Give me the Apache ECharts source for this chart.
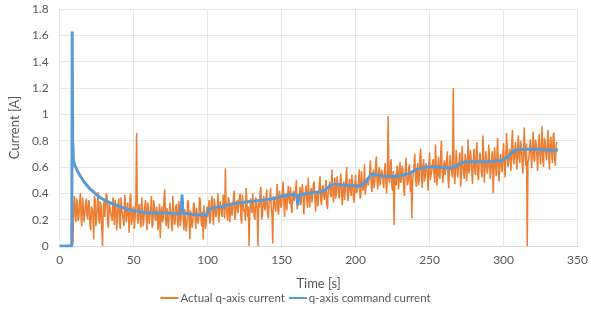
<!DOCTYPE html>
<html lang="en" style="height: 100%">

<head>
  <meta charset="utf-8">
  <style>
    html,
    body {
      margin: 0;
      padding: 0;
      width: 100%;
      height: 100%;
      overflow: hidden;
      background: #fff;
    }
  </style>
</head>

<body>
  <div id="container" style="height: 100%;width: 100%;"></div>

  <script type="text/javascript" src="https://cdn.jsdelivr.net/npm/echarts@6/dist/echarts.min.js"></script>
  <script type="text/javascript">

    var dom = document.getElementById('container');
    var myChart = echarts.init(dom, null, { renderer: 'canvas' });

    let legendItem = ['Actual q-axis current', 'q-axis command current'];
    let color = ['#ED7D31', '#5B9BD5'];
    let textColor = '#595959';
    let fontFamily = 'Lato, "Open Sans", sans-serif';

    // actual current, samples on the whole second from t = 9 s
    let actualStart = 9;
    let actualValues = [
      0.02, 0.38, 0.18, 0.32, 0.22, 0.40, 0.15, 0.30, 0.25, 0.36,
      0.20, 0.33, 0.12, 0.28, 0.05, 0.35, 0.22, 0.41, 0.17, 0.30,
      0.00, 0.34, 0.21, 0.38, 0.14, 0.29, 0.24, 0.37, 0.16, 0.31,
      0.20, 0.36, 0.13, 0.28, 0.23, 0.39, 0.18, 0.33, 0.10, 0.40,
      0.19, 0.30, 0.22, 0.86, 0.17, 0.32, 0.14, 0.27, 0.21, 0.35,
      0.12, 0.29, 0.23, 0.38, 0.16, 0.31, 0.19, 0.26, 0.13, 0.06,
      0.30, 0.20, 0.43, 0.15, 0.28, 0.22, 0.34, 0.11, 0.27, 0.18,
      0.32, 0.14, 0.25, 0.20, 0.36, 0.12, 0.29, 0.17, 0.33, 0.05,
      0.26, 0.19, 0.31, 0.13, 0.28, 0.21, 0.35, 0.15, 0.05, 0.24,
      0.18, 0.22, 0.35, 0.20, 0.38, 0.16, 0.31, 0.24, 0.40, 0.19,
      0.33, 0.22, 0.36, 0.59, 0.25, 0.37, 0.18, 0.32, 0.27, 0.42,
      0.21, 0.35, 0.26, 0.40, 0.17, 0.33, 0.28, 0.44, 0.22, 0.00,
      0.36, 0.25, 0.41, 0.20, 0.34, 0.00, 0.29, 0.45, 0.23, 0.38,
      0.27, 0.43, 0.21, 0.35, 0.30, 0.02, 0.39, 0.26, 0.47, 0.24,
      0.37, 0.31, 0.49, 0.22, 0.40, 0.28, 0.36, 0.45, 0.25, 0.42,
      0.33, 0.50, 0.27, 0.39, 0.31, 0.47, 0.24, 0.41, 0.35, 0.52,
      0.29, 0.44, 0.34, 0.49, 0.26, 0.42, 0.37, 0.53, 0.31, 0.46,
      0.35, 0.50, 0.28, 0.45, 0.39, 0.58, 0.33, 0.52, 0.40, 0.47,
      0.36, 0.55, 0.31, 0.49, 0.42, 0.60, 0.34, 0.51, 0.38, 0.46,
      0.33, 0.54, 0.40, 0.49, 0.36, 0.57, 0.42, 0.62, 0.39, 0.52,
      0.45, 0.65, 0.41, 0.58, 0.49, 0.68, 0.43, 0.60, 0.47, 0.56,
      0.44, 0.63, 0.40, 0.99, 0.48, 0.66, 0.42, 0.16, 0.55, 0.61,
      0.43, 0.64, 0.50, 0.58, 0.38, 0.67, 0.46, 0.60, 0.41, 0.21,
      0.56, 0.70, 0.45, 0.63, 0.50, 0.74, 0.44, 0.66, 0.52, 0.60,
      0.42, 0.71, 0.49, 0.64, 0.55, 0.77, 0.46, 0.68, 0.51, 0.80,
      0.48, 0.65, 0.53, 0.72, 0.44, 0.69, 0.56, 1.20, 0.47, 0.73,
      0.52, 0.66, 0.45, 0.76, 0.55, 0.70, 0.49, 0.81, 0.58, 0.68,
      0.47, 0.74, 0.54, 0.79, 0.50, 0.71, 0.57, 0.84, 0.48, 0.72,
      0.55, 0.77, 0.51, 0.68, 0.40, 0.75, 0.53, 0.82, 0.49, 0.70,
      0.56, 0.78, 0.52, 0.86, 0.60, 0.74, 0.57, 0.88, 0.62, 0.79,
      0.58, 0.84, 0.63, 0.76, 0.55, 0.90, 0.61, 0.00, 0.66, 0.81,
      0.59, 0.87, 0.64, 0.78, 0.57, 0.85, 0.62, 0.91, 0.60, 0.80,
      0.65, 0.88, 0.58, 0.83, 0.63, 0.86, 0.61, 0.79
    ];
    // actual current, samples on the half second from t = 9.5 s
    let actualHalfStart = 9.5;
    let actualHalfValues = [
      0.30, 0.24, 0.36, 0.19, 0.33, 0.21, 0.37, 0.18, 0.31, 0.23,
      0.35, 0.16, 0.30, 0.24, 0.38, 0.15, 0.32, 0.20, 0.34, 0.13,
      0.29, 0.22, 0.40, 0.17, 0.33, 0.25, 0.19, 0.30, 0.35, 0.12,
      0.32, 0.18, 0.37, 0.24, 0.15, 0.31, 0.27, 0.20, 0.36, 0.16,
      0.28, 0.13, 0.34, 0.22, 0.30, 0.19, 0.37, 0.15, 0.29, 0.24,
      0.33, 0.17, 0.27, 0.14, 0.35, 0.21, 0.30, 0.12, 0.32, 0.25,
      0.18, 0.36, 0.23, 0.29, 0.13, 0.33, 0.19, 0.38, 0.16, 0.30,
      0.21, 0.34, 0.15, 0.31, 0.22, 0.28, 0.11, 0.35, 0.20, 0.27,
      0.14, 0.33, 0.22, 0.29, 0.17, 0.37, 0.20, 0.26, 0.31, 0.13,
      0.30, 0.26, 0.17, 0.33, 0.25, 0.36, 0.22, 0.29, 0.18, 0.34,
      0.24, 0.39, 0.21, 0.30, 0.19, 0.35, 0.28, 0.23, 0.38, 0.20,
      0.32, 0.25, 0.37, 0.21, 0.39, 0.26, 0.19, 0.35, 0.30, 0.24,
      0.31, 0.40, 0.22, 0.37, 0.27, 0.33, 0.41, 0.20, 0.34, 0.29,
      0.36, 0.25, 0.32, 0.44, 0.23, 0.38, 0.31, 0.36, 0.27, 0.42,
      0.29, 0.41, 0.33, 0.38, 0.27, 0.46, 0.32, 0.29, 0.39, 0.34,
      0.43, 0.28, 0.37, 0.45, 0.30, 0.40, 0.35, 0.46, 0.29, 0.38,
      0.41, 0.33, 0.47, 0.36, 0.40, 0.30, 0.48, 0.35, 0.43, 0.38,
      0.44, 0.32, 0.41, 0.49, 0.37, 0.45, 0.42, 0.36, 0.53, 0.40,
      0.48, 0.41, 0.44, 0.35, 0.52, 0.39, 0.46, 0.42, 0.54, 0.37,
      0.47, 0.40, 0.44, 0.58, 0.38, 0.48, 0.45, 0.39, 0.50, 0.46,
      0.55, 0.48, 0.52, 0.44, 0.61, 0.50, 0.55, 0.46, 0.58, 0.49,
      0.57, 0.47, 0.55, 0.51, 0.60, 0.45, 0.57, 0.50, 0.46, 0.59,
      0.52, 0.48, 0.61, 0.44, 0.56, 0.53, 0.49, 0.62, 0.55, 0.47,
      0.61, 0.52, 0.58, 0.46, 0.67, 0.54, 0.60, 0.49, 0.63, 0.55,
      0.62, 0.50, 0.58, 0.66, 0.48, 0.61, 0.57, 0.53, 0.69, 0.56,
      0.60, 0.54, 0.66, 0.50, 0.62, 0.58, 0.52, 0.63, 0.57, 0.61,
      0.59, 0.71, 0.56, 0.62, 0.51, 0.65, 0.60, 0.55, 0.73, 0.57,
      0.64, 0.58, 0.69, 0.55, 0.62, 0.66, 0.52, 0.70, 0.59, 0.63,
      0.60, 0.66, 0.57, 0.72, 0.58, 0.63, 0.68, 0.56, 0.65, 0.60,
      0.69, 0.62, 0.66, 0.73, 0.64, 0.70, 0.77, 0.66, 0.71, 0.68,
      0.74, 0.67, 0.80, 0.65, 0.72, 0.69, 0.78, 0.64, 0.73, 0.70,
      0.76, 0.66, 0.81, 0.69, 0.74, 0.70, 0.77, 0.65, 0.82, 0.71,
      0.75, 0.68, 0.79, 0.70, 0.84, 0.67, 0.76
    ];

    // command current, read at its breakpoints
    let commandTime = [
      0, 8.2, 8.5, 8.8, 9.0, 9.3, 10, 12, 14, 17, 20, 24, 27, 31, 34, 38, 42, 47, 52, 58,
      65, 72, 80, 82, 82.7, 83.3, 90, 99, 100, 101, 104, 110, 116, 123, 130, 138, 145, 150,
      156, 160, 161, 162, 168, 175, 179, 183, 186, 194, 203, 207, 211, 214, 218, 229, 236,
      241, 246, 256, 264, 270, 274, 289, 299, 303, 307, 310, 322, 330, 336.7
    ];
    let commandValues = [
      0, 0, 1.63, 0.80, 0.76, 0.65, 0.62, 0.57, 0.53, 0.48, 0.44, 0.40, 0.37, 0.345, 0.33, 0.31, 0.295, 0.275, 0.265, 0.255,
      0.25, 0.25, 0.245, 0.25, 0.39, 0.25, 0.24, 0.235, 0.23, 0.28, 0.29, 0.30, 0.32, 0.33, 0.34, 0.35, 0.36, 0.38,
      0.39, 0.39, 0.31, 0.39, 0.40, 0.41, 0.42, 0.46, 0.47, 0.46, 0.455, 0.49, 0.55, 0.54, 0.53, 0.53, 0.55,
      0.58, 0.60, 0.60, 0.59, 0.62, 0.64, 0.64, 0.65, 0.68, 0.72, 0.735, 0.735, 0.73, 0.73
    ];

    let xTicks = { min: 0, max: 350, interval: 50 };
    let yTicks = { min: 0, max: 1.8, interval: 0.2 };

    let actualData = actualValues.map((v, i) => [actualStart + i, v])
      .concat(actualHalfValues.map((v, i) => [actualHalfStart + i, v]))
      .sort((a, b) => a[0] - b[0]);
    let commandData = commandTime.map((t, i) => [t, commandValues[i]]);

    let option = {
      animation: false,
      color: color,
      textStyle: { fontFamily: fontFamily },
      grid: {
        left: 54,
        right: 9,
        top: 9,
        bottom: 74
      },
      legend: {
        bottom: 11,
        left: 'center',
        data: legendItem,
        icon: 'rect',
        itemWidth: 18,
        itemHeight: 2,
        itemGap: 4,
        textStyle: {
          color: textColor,
          fontSize: 11.5,
          fontFamily: fontFamily,
          padding: [0, 0, 0, -3]
        }
      },
      xAxis: {
        type: 'value',
        min: xTicks.min,
        max: xTicks.max,
        interval: xTicks.interval,
        name: 'Time [s]',
        nameLocation: 'middle',
        nameGap: 31,
        nameTextStyle: { color: textColor, fontSize: 13, fontFamily: fontFamily },
        axisLine: { show: true, lineStyle: { color: '#d9d9d9' } },
        axisTick: { show: false },
        axisLabel: { color: textColor, fontSize: 12, margin: 8 },
        splitLine: { show: true, lineStyle: { color: '#e6e6e6' } }
      },
      yAxis: {
        type: 'value',
        min: yTicks.min,
        max: yTicks.max,
        interval: yTicks.interval,
        name: 'Current [A]',
        nameLocation: 'middle',
        nameGap: 35,
        nameTextStyle: { color: textColor, fontSize: 13, fontFamily: fontFamily },
        axisLine: { show: false },
        axisTick: { show: false },
        axisLabel: { color: textColor, fontSize: 12, margin: 11 },
        splitLine: { show: true, lineStyle: { color: '#e6e6e6' } }
      },
      series: [{
        name: legendItem[0],
        type: 'line',
        symbol: 'none',
        lineStyle: { width: 1.5, color: color[0] },
        data: actualData
      }, {
        name: legendItem[1],
        type: 'line',
        symbol: 'none',
        lineStyle: { width: 3, color: color[1] },
        data: commandData
      }]
    };

    myChart.setOption(option);
    window.addEventListener('resize', myChart.resize);

  </script>
</body>

</html>
